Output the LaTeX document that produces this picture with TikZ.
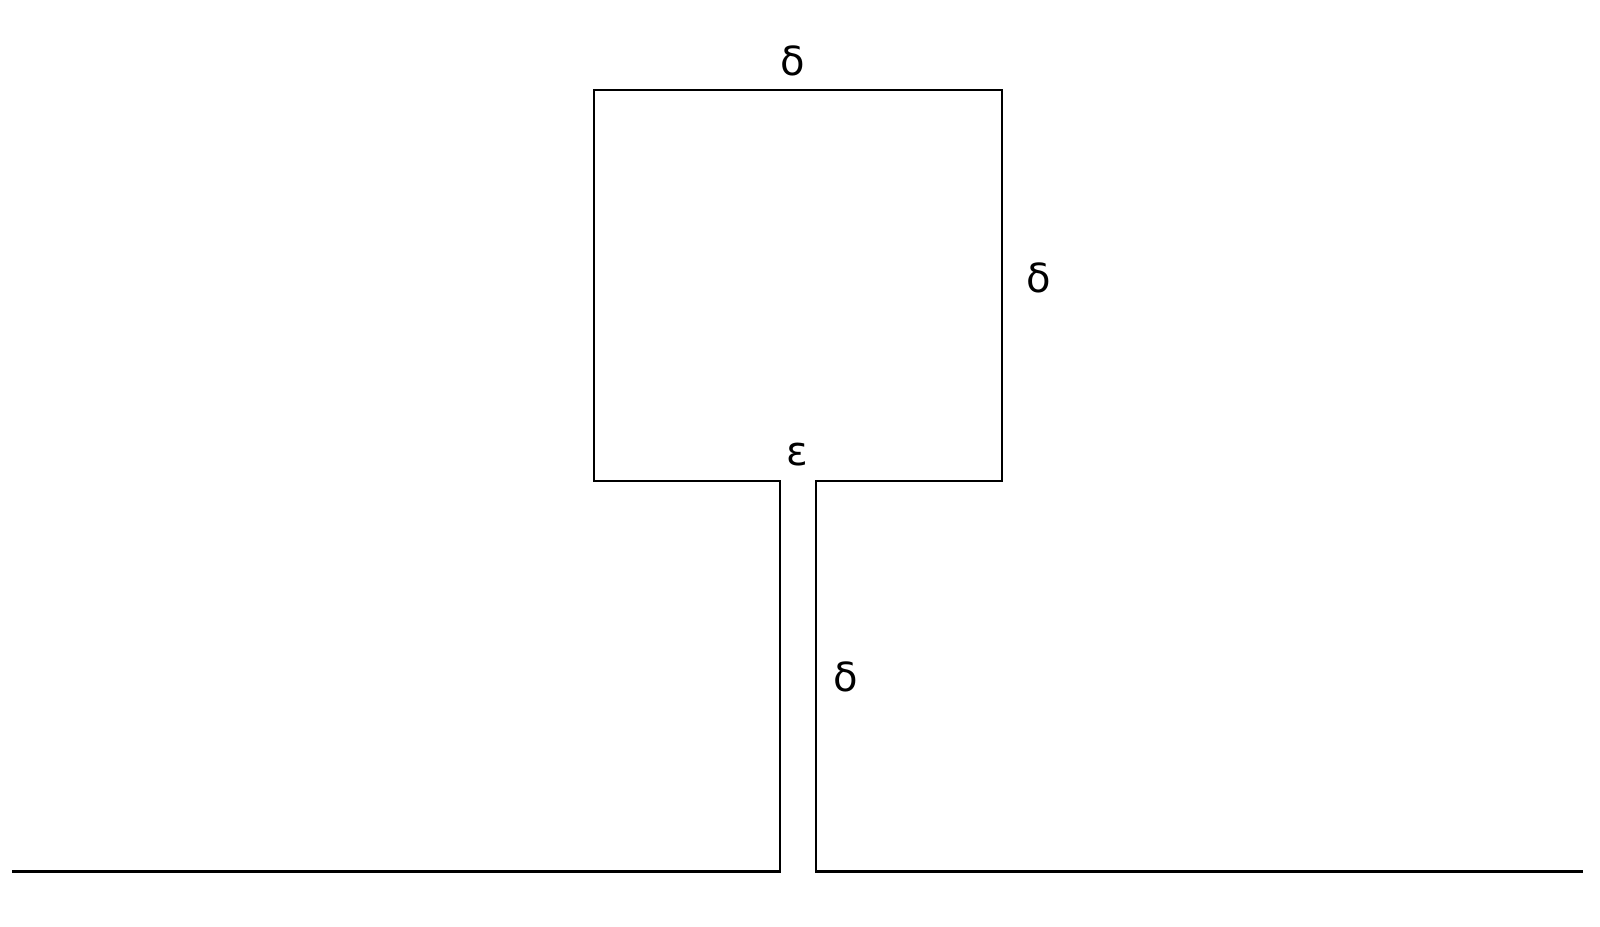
\documentclass[tikz,border=0pt]{standalone}
\usepackage{fontspec}
\setmainfont{DejaVu Sans}
\begin{document}
\begin{tikzpicture}[x=0.010204cm,y=-0.010204cm,line width=0.6pt]
\tikzset{lbl/.style={inner sep=0pt,font=\fontsize{11.4}{13}\selectfont}}
\useasboundingbox (0,0) rectangle (1568,907.5);
% ground and stem
\draw (12,854) -- (764,854) -- (764,471) -- (582,471) -- (582,88) -- (781,88);
\draw (781,88) -- (982,88) -- (982,471) -- (800,471) -- (800,854) -- (1551,854);
% labels
\node[lbl] (dtop) at (777,60) {δ};
\node[lbl] (dright) at (1018,272) {δ};
\node[lbl] (gap) at (781,445) {ε};
\node[lbl] (dstem) at (829,663) {δ};
\end{tikzpicture}
\end{document}
